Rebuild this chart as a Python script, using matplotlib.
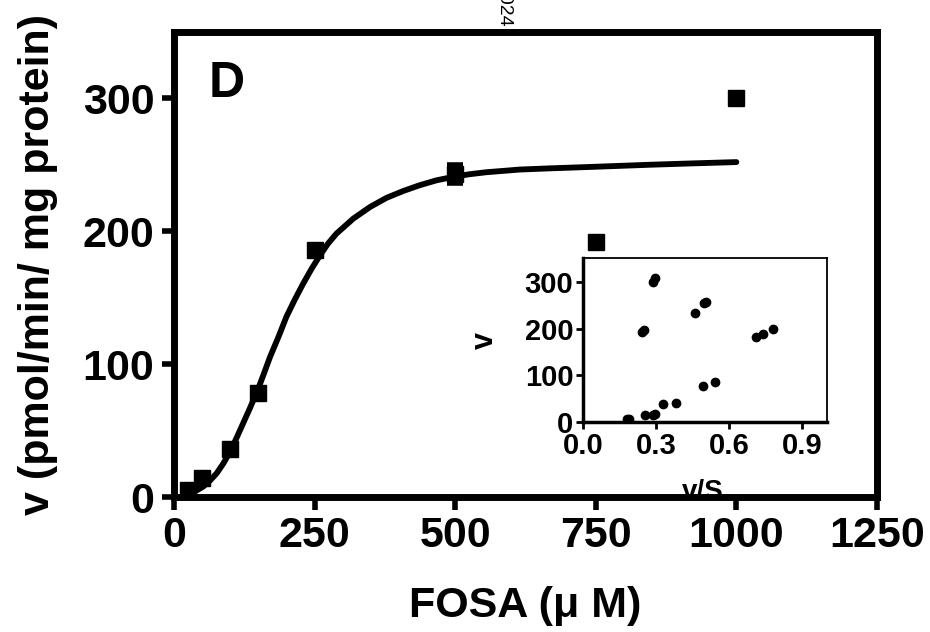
import matplotlib
matplotlib.use("Agg")
import matplotlib.pyplot as plt

plt.rcParams["font.family"] = ["Liberation Sans", "DejaVu Sans"]
plt.rcParams["font.weight"] = "bold"

# main panel: measured rates
fosa_conc = [25, 50, 100, 150, 250, 500, 750, 1000]
rate = [5, 14, 36, 78, 186, 243, 192, 300]
rate_err = [0, 0, 0, 0, 0, 7, 0, 0]

# fitted curve
fit_conc = [17, 28, 40, 52, 64, 76, 88, 100, 111, 123, 135, 149, 159, 171,
            186, 200, 215, 230, 245, 260, 274, 289, 319, 349, 378, 408, 437,
            467, 497, 526, 556, 586, 615, 669, 750, 846, 920, 1000]
fit_rate = [0.8, 2.3, 4.8, 7.8, 12.3, 17.8, 25.3, 34.1, 44.1, 55.4, 66.7, 80.5,
            91.7, 105.5, 120.6, 135.6, 148.6, 160.7, 171.9, 182, 190.7, 198.2,
            209.5, 218.3, 225.1, 230.3, 234.6, 238.3, 240.9, 242.9, 244.4,
            245.4, 246.4, 247.3, 248.5, 250, 251, 252]

# inset: v against v/S
inset_vs = [0.18, 0.19, 0.256, 0.285, 0.295, 0.326, 0.38, 0.49, 0.54,
            0.71, 0.74, 0.78, 0.242, 0.25, 0.287, 0.296, 0.458, 0.496, 0.503]
inset_v = [6, 7, 16, 15, 18, 38, 42, 78, 85,
           183, 188, 199, 193, 198, 300, 308, 234, 254, 257]

fig = plt.figure(figsize=(9.3, 6.32), dpi=100)
ax = fig.add_axes([0.187, 0.2136, 0.756, 0.736])

ax.plot(fit_conc, fit_rate, color="black", lw=4.2, solid_capstyle="round",
        solid_joinstyle="round", zorder=3)
ax.errorbar(fosa_conc, rate, yerr=rate_err, fmt="s", color="black", ms=11,
            capsize=6, capthick=4, elinewidth=4, zorder=4)

ax.set_xlim(0, 1250)
ax.set_ylim(0, 350)
ax.set_xticks([0, 250, 500, 750, 1000, 1250])
ax.set_yticks([0, 100, 200, 300])
for side in ["left", "right", "top", "bottom"]:
    ax.spines[side].set_linewidth(5)
ax.tick_params(direction="out", length=9, width=4, labelsize=31, pad=5)
ax.set_xlabel("FOSA (\u03bc M)", fontsize=31, fontweight="bold", labelpad=21)
ax.set_ylabel("v (pmol/min/ mg protein)", fontsize=31, fontweight="bold", labelpad=18)
ax.text(0.05, 0.86, "D", transform=ax.transAxes, fontsize=36, fontweight="bold")

# inset
ins = fig.add_axes([0.627, 0.332, 0.262, 0.259])
ins.plot(inset_vs, inset_v, "o", color="black", ms=6)
ins.set_xlim(0, 1.0)
ins.set_ylim(0, 350)
ins.set_xticks([0.0, 0.3, 0.6, 0.9])
ins.set_xticklabels(["0.0", "0.3", "0.6", "0.9"])
ins.set_yticks([0, 100, 200, 300])
ins.spines["left"].set_linewidth(2.5)
ins.spines["bottom"].set_linewidth(2.5)
ins.spines["top"].set_linewidth(1.3)
ins.spines["right"].set_linewidth(1.3)
ins.tick_params(direction="out", length=5, width=2, labelsize=21, pad=2)
ins.set_ylabel("v", fontsize=22, fontweight="bold", rotation=90, labelpad=18)
# inset x label sits partly under the main axis line
ax.text(0.756, 0.221, "v/S", transform=fig.transFigure, fontsize=20,
        fontweight="bold", ha="center", va="center", zorder=1, clip_on=False)

fig.text(0.541, 0.958, "2024", rotation=-90, ha="center", va="bottom",
         fontsize=14, fontweight="normal")

fig.savefig("out.png", dpi=100)
